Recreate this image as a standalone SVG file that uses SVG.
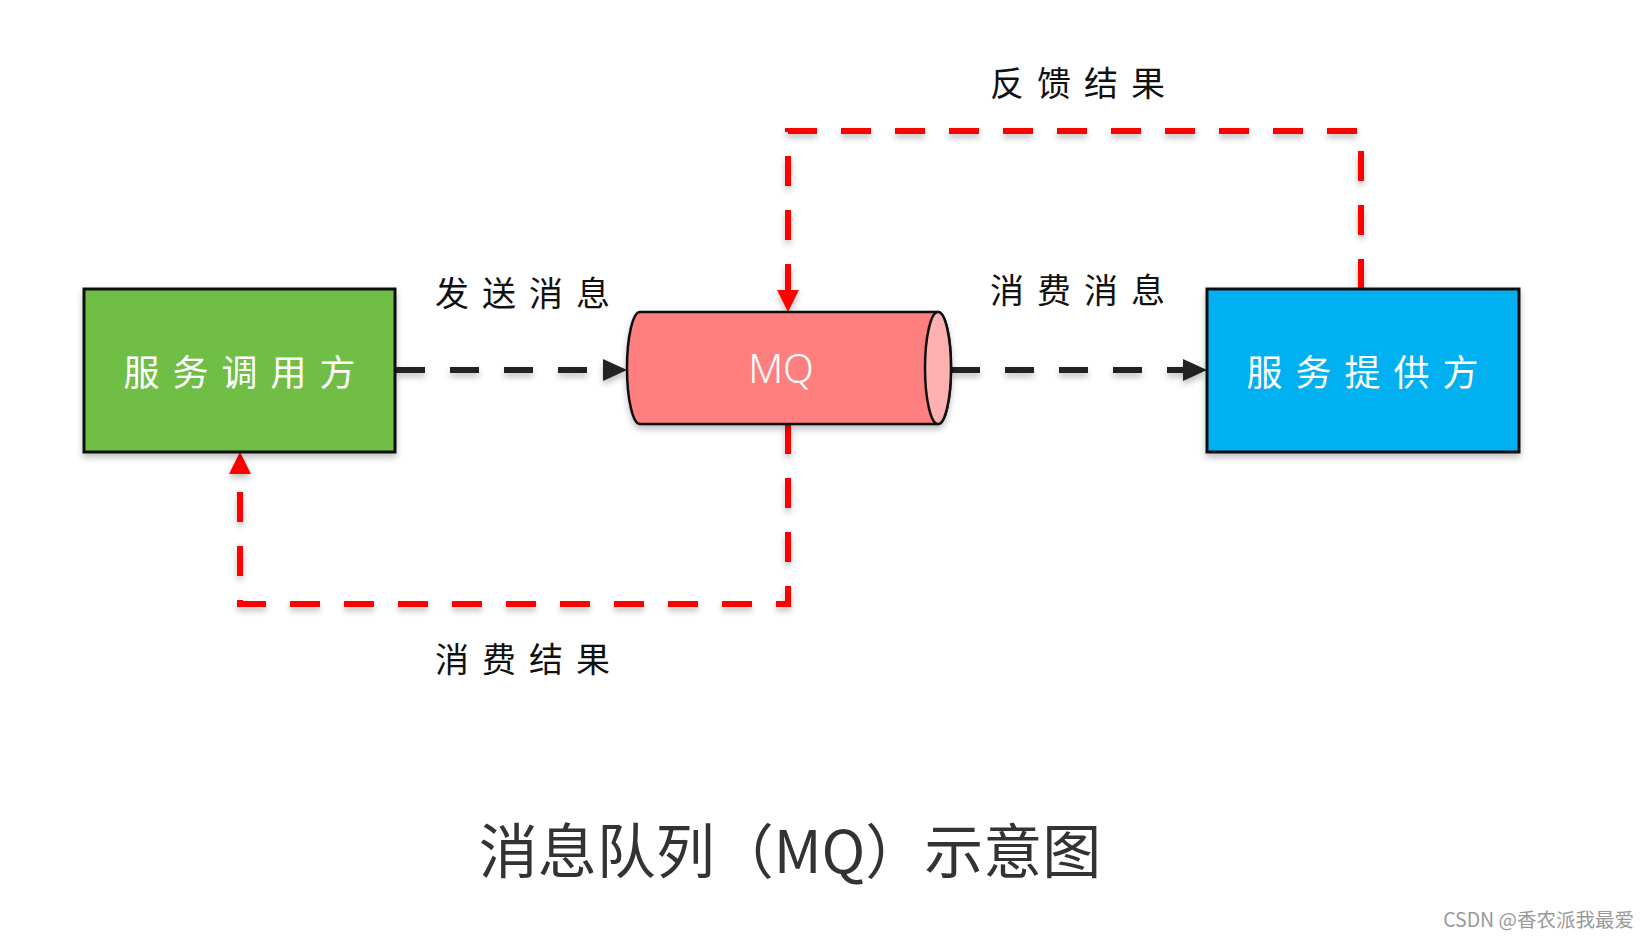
<svg xmlns="http://www.w3.org/2000/svg" width="1648" height="938" viewBox="0 0 1648 938">
<style>
.lbl{font-family:"Noto Sans CJK SC","Noto Sans",sans-serif;font-size:34px;fill:#111;letter-spacing:13px;text-anchor:middle}
.node-t{font-family:"Noto Sans CJK SC","Noto Sans",sans-serif;font-size:36px;fill:#fff;letter-spacing:13px;text-anchor:middle}
.blk{fill:none;stroke:#222;stroke-width:6;stroke-dasharray:29 25}
.red{fill:none;stroke:#ff0000;stroke-width:6;stroke-dasharray:30 24}
</style>
<defs>
<filter id="sh" x="-10%" y="-10%" width="120%" height="130%">
<feDropShadow dx="0" dy="4" stdDeviation="3" flood-color="#000" flood-opacity="0.25"/>
</filter>
<marker id="ab" markerUnits="userSpaceOnUse" markerWidth="24" markerHeight="22" refX="0" refY="11" orient="auto">
<path d="M0,0 L24,11 L0,22 Z" fill="#222"/>
</marker>
<marker id="ar" markerUnits="userSpaceOnUse" markerWidth="22" markerHeight="22" refX="0" refY="11" orient="auto">
<path d="M0,0 L22,11 L0,22 Z" fill="#ff0000"/>
</marker>
</defs>
<rect width="1648" height="938" fill="#fff"/>
<g id="connectors" filter="url(#sh)">
<path class="blk" d="M396,370 H603" marker-end="url(#ab)"/>
<path class="blk" d="M951,370 H1183" marker-end="url(#ab)"/>
<path class="red" d="M1361,289 V131 H788 V290" marker-end="url(#ar)"/>
<path class="red" d="M788,424 V604 H240 V474" marker-end="url(#ar)"/>
</g>
<g id="caller">
<rect x="84" y="289" width="311" height="163" fill="#6fbe44" stroke="#111" stroke-width="3" filter="url(#sh)"/>
<text class="node-t" x="246" y="386">服务调用方</text>
</g>
<g id="mq">
<path d="M640,312 H938 A13,56 0 0 1 938,424 H640 A13,56 0 0 1 640,312 Z" fill="#ff7f7f" stroke="#111" stroke-width="2.5" filter="url(#sh)"/>
<ellipse cx="938" cy="368" rx="13" ry="56" fill="#ffb0b0" stroke="#111" stroke-width="2.5"/>
<text x="781" y="383" font-family="Noto Sans, sans-serif" font-weight="300" font-size="40" fill="#fff" text-anchor="middle">MQ</text>
</g>
<g id="provider">
<rect x="1207" y="289" width="312" height="163" fill="#00b0f0" stroke="#111" stroke-width="3" filter="url(#sh)"/>
<text class="node-t" x="1369" y="386">服务提供方</text>
</g>
<g id="labels">
<text class="lbl" x="529" y="306">发送消息</text>
<text class="lbl" x="1084" y="96">反馈结果</text>
<text class="lbl" x="1084" y="303">消费消息</text>
<text class="lbl" x="529" y="672">消费结果</text>
</g>
<text x="790" y="873" font-family="Noto Sans CJK SC, sans-serif" font-size="59" fill="#333" text-anchor="middle">消息队列（MQ）示意图</text>
<text x="1634" y="927" font-family="Noto Sans CJK SC, sans-serif" font-size="19.5" fill="#999" text-anchor="end">CSDN @香农派我最爱</text>
</svg>
